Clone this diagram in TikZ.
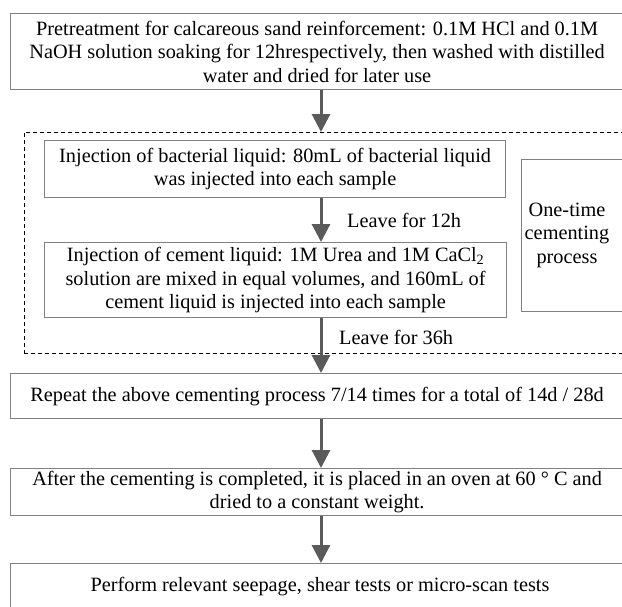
\documentclass[tikz,border=0pt]{standalone}
\usepackage{fontspec}
\setmainfont{Liberation Serif}
\usetikzlibrary{arrows.meta}
\definecolor{boxgray}{HTML}{808080}
\definecolor{arrgray}{HTML}{5A5A5A}
\tikzset{
  txt/.style={font=\fontsize{20.3}{23.5}\selectfont},
  box/.style={draw=boxgray, line width=1.2pt, anchor=north west, align=center, inner sep=0pt, txt},
  plain/.style={align=center, inner sep=0pt, txt},
  arr/.style={draw=arrgray, line width=3pt, -{Triangle[length=18pt,width=18pt]}, arrgray},
  dashbox/.style={draw=black, line width=0.9pt, dash pattern=on 4pt off 3pt, anchor=north west, inner sep=0pt}
}
\begin{document}
\begin{tikzpicture}[x=1pt,y=-1pt]
\useasboundingbox (0,0) rectangle (622,606);
\coordinate (ax) at (321,0);
\node[box, minimum width=613pt, minimum height=76pt] (pre) at (10,13)
  {Pretreatment for calcareous sand reinforcement: 0.1M HCl and 0.1M\\
   NaOH solution soaking for 12hrespectively, then washed with distilled\\
   water and dried for later use};
\node[dashbox, minimum width=610pt, minimum height=221pt] (dash) at (24,132) {};
\node[box, minimum width=461pt, minimum height=57pt] (b1) at (44,140)
  {Injection of bacterial liquid: 80mL of bacterial liquid\\
   was injected into each sample};
\node[box, minimum width=462pt, minimum height=75pt] (b2) at (44,242)
  {Injection of cement liquid: 1M Urea and 1M CaCl\textsubscript{2}\\
   solution are mixed in equal volumes, and 160mL of\\
   cement liquid is injected into each sample};
\node[box, minimum width=110pt, minimum height=152pt] (rb) at (521,159) {};
\node[plain] (rt) at (567,235) {One-time\\cementing\\process};
\node[box, minimum width=613pt, minimum height=45pt] (rep) at (10,373)
  {Repeat the above cementing process 7/14 times for a total of 14d / 28d};
\node[box, minimum width=613pt, minimum height=47pt] (aft) at (10,468)
  {After the cementing is completed, it is placed in an oven at 60 ° C and\\
   dried to a constant weight.};
\node[box, minimum width=613pt, minimum height=60pt, anchor=north west] (last) at (10,563) {};
\node[plain] (lastt) at (320,587) {Perform relevant seepage, shear tests or micro-scan tests};
\node[plain, anchor=west] (l12) at (347,220) {Leave for 12h};
\node[plain, anchor=west] (l36) at (339,337) {Leave for 36h};
\draw[arr] (pre.south -| ax) -- (dash.north -| ax);
\draw[arr] (b1.south -| ax) -- (b2.north -| ax);
\draw[arr] (b2.south -| ax) -- (rep.north -| ax);
\draw[arr] (rep.south -| ax) -- (aft.north -| ax);
\draw[arr] (aft.south -| ax) -- (last.north -| ax);
\end{tikzpicture}
\end{document}
